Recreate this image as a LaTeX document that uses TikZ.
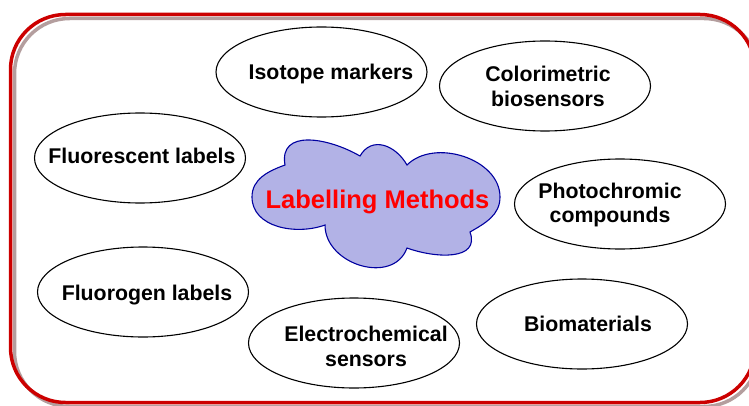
\documentclass[tikz,border=0pt]{standalone}
\usepackage{fontspec}
\setmainfont{Liberation Sans}
\usetikzlibrary{shapes.geometric}
\definecolor{framered}{RGB}{204,0,0}
\definecolor{shadowgray}{RGB}{180,158,158}
\definecolor{cloudfill}{RGB}{178,178,230}
\definecolor{cloudline}{RGB}{0,0,160}
\begin{document}
\begin{tikzpicture}[x=1pt,y=1pt,
  oval/.style={ellipse,draw=black,line width=1.1pt,minimum width=211pt,minimum height=90pt,inner sep=0pt},
  lbl/.style={font=\bfseries\fontsize{21.3}{24.5}\selectfont,align=center,inner sep=0pt,anchor=base},
  frame/.style={rounded corners=55pt,line width=3.5pt}]
\useasboundingbox (0,0) rectangle (749,405);
\clip (0,0) rectangle (749,405);
% frame with shadow
\draw[frame,draw=shadowgray] (14.5,-1.5) rectangle (759,386.5);
\draw[frame,draw=framered] (10.5,2.5) rectangle (755,390.5);
% cloud
\draw[cloudline,fill=cloudfill,line width=1.1pt]
  (252,208) to[out=90,in=200] (285,240)
  to[out=100,in=150,looseness=1.25] (360,249)
  to[out=60,in=120,looseness=1.25] (407,240)
  to[out=45,in=90] (500,208)
  to[out=-90,in=30] (470,173)
  to[out=-70,in=-20,looseness=1.2] (407,157)
  to[out=-110,in=-90,looseness=1.2] (325,180)
  to[out=200,in=-90] cycle;
\node[font=\bfseries\fontsize{25.5}{30}\selectfont,text=red,inner sep=0pt,anchor=base] (lm) at (377.5,197) {Labelling Methods};
% ellipses
\node[oval] (iso) at (321.5,333) {};
\node[oval] (col) at (545,319) {};
\node[oval] (flu) at (140,247) {};
\node[oval] (pho) at (620,201) {};
\node[oval] (fgn) at (143,113) {};
\node[oval] (ele) at (354,62) {};
\node[oval] (bio) at (582,81) {};
% labels
\node[lbl] (isot) at (331,325.7) {Isotope markers};
\node[lbl] (colt) at (548,298.5) {Colorimetric\\biosensors};
\node[lbl] (flut) at (142,241.7) {Fluorescent labels};
\node[lbl] (phot) at (610,182.5) {Photochromic\\compounds};
\node[lbl] (fgnt) at (147,105) {Fluorogen labels};
\node[lbl] (elet) at (366,39) {Electrochemical\\sensors};
\node[lbl] (biot) at (588,73.3) {Biomaterials};
\end{tikzpicture}
\end{document}
